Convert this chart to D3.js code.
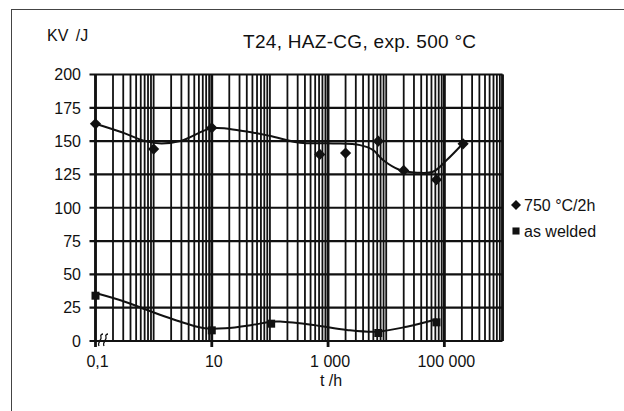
<!DOCTYPE html>
<html><head><meta charset="utf-8">
<script src="https://cdn.jsdelivr.net/npm/d3@7"></script>
<style>body{margin:0;background:#fff}svg{display:block}text{font-family:"Liberation Sans",Arial,sans-serif;fill:#111}</style>
</head><body><svg id="c" width="624" height="411"></svg>
<script>
// ---- data ----
const titleText = "T24, HAZ-CG, exp. 500 °C";
const yAxisTitle = "KV /J";
const xAxisTitle = "t /h";
const yTicks = [0, 25, 50, 75, 100, 125, 150, 175, 200];
const xTickValues = [0.1, 10, 1000, 100000];
const xTickLabels = ["0,1", "10", "1 000", "100 000"];
const seriesNames = ["750 °C/2h", "as welded"];
// 750 °C/2h measured points
const t750 = [0.1, 1, 10, 720, 2000, 7300, 20000, 73000, 210000];
const kv750 = [163, 144, 160, 140, 141, 150, 128, 121, 148];
// as welded measured points
const tWeld = [0.1, 10, 105, 7300, 73000];
const kvWeld = [34, 8, 13, 6, 14];
// trend curves
const trend750T = [0.1, 0.32, 0.71, 1.37, 3.0, 10, 30, 98, 330, 1210, 3540, 5900, 8800, 17200, 33800, 63700, 110000, 211000];
const trend750V = [163, 155.8, 150, 148.3, 150.3, 159.6, 158, 154, 148.8, 148.3, 147, 143.4, 135.8, 128.3, 126.3, 127, 135.8, 148.4];
const trendWeldT = [0.1, 0.32, 0.92, 3.5, 7.6, 17, 49, 107, 150, 560, 2100, 6900, 22500, 74000];
const trendWeldV = [36, 29.5, 22, 13.3, 9.5, 9.5, 12, 14.5, 14.6, 12, 8.3, 7, 10.7, 16.3];

// ---- drawing ----
const svg = d3.select("#c");
const L = 95.5, R = 502.5, T = 74.5, B = 341;
const x = d3.scaleLog().domain([0.1, 1e6]).range([L, R]);
const y = d3.scaleLinear().domain([0, 200]).range([B, T]);

svg.append("rect").attr("x", 11.5).attr("y", 9.5).attr("width", 700).attr("height", 500)
  .attr("fill", "none").attr("stroke", "#444").attr("stroke-width", 1);

// vertical log gridlines
const g = svg.append("g");
g.selectAll("line.v").data(x.ticks()).join("line")
  .attr("x1", d => x(d)).attr("x2", d => x(d)).attr("y1", T).attr("y2", B)
  .attr("stroke", "#111").attr("stroke-width", 1.8);
// horizontal gridlines
g.selectAll("line.h").data(yTicks).join("line")
  .attr("x1", L - 6).attr("x2", R).attr("y1", d => y(d)).attr("y2", d => y(d))
  .attr("stroke", "#111").attr("stroke-width", 2.2);
// major x lines + ticks
g.selectAll("line.m").data(xTickValues.concat([1e6])).join("line")
  .attr("x1", d => x(d)).attr("x2", d => x(d)).attr("y1", T)
  .attr("y2", (d, i) => i < xTickValues.length ? B + 6 : B)
  .attr("stroke", "#111").attr("stroke-width", 2.8);

// y labels
svg.selectAll("text.yl").data(yTicks).join("text")
  .attr("x", 81).attr("y", d => y(d) + 5.8).attr("text-anchor", "end")
  .attr("font-size", 16).text(d => d);
// x labels
svg.selectAll("text.xl").data(xTickValues).join("text")
  .attr("x", d => x(d) + 2).attr("y", 366.5).attr("text-anchor", "middle")
  .attr("font-size", 16).text((d, i) => xTickLabels[i]);
svg.append("text").attr("x", 331).attr("y", 386).attr("text-anchor", "middle").attr("font-size", 16).text(xAxisTitle);
svg.append("text").attr("x", 47).attr("y", 41).attr("font-size", 16).attr("word-spacing", 3).text(yAxisTitle);
svg.append("text").attr("x", 243).attr("y", 48).attr("font-size", 19).attr("letter-spacing", 0.3).text(titleText);

// axis break symbol
const brk = svg.append("g").attr("fill", "none").attr("stroke", "#111").attr("stroke-width", 1.3);
[101, 106].forEach(bx => {
  brk.append("path").attr("d", `M${bx - 2},${B + 5} C${bx - 4},${B + 1} ${bx + 1},${B - 1} ${bx},${B - 4} C${bx - 1},${B - 6} ${bx + 1},${B - 7} ${bx + 2},${B - 7}`);
});

// trend curves
const line = d3.line().x(d => x(d[0])).y(d => y(d[1])).curve(d3.curveCatmullRom.alpha(0.5));
svg.append("path").datum(d3.zip(trend750T, trend750V)).attr("d", line)
  .attr("fill", "none").attr("stroke", "#111").attr("stroke-width", 2);
svg.append("path").datum(d3.zip(trendWeldT, trendWeldV)).attr("d", line)
  .attr("fill", "none").attr("stroke", "#111").attr("stroke-width", 2);

// markers
const diamond = d3.symbol().type(d3.symbolDiamond2).size(80);
const square = d3.symbol().type(d3.symbolSquare).size(64);
svg.selectAll("path.d").data(d3.zip(t750, kv750)).join("path")
  .attr("d", diamond).attr("transform", d => `translate(${x(d[0])},${y(d[1])})`).attr("fill", "#111");
svg.selectAll("path.s").data(d3.zip(tWeld, kvWeld)).join("path")
  .attr("d", square).attr("transform", d => `translate(${x(d[0])},${y(d[1])})`).attr("fill", "#111");

// legend
svg.append("path").attr("d", d3.symbol().type(d3.symbolDiamond2).size(64)).attr("transform", "translate(516,205)").attr("fill", "#111");
svg.append("path").attr("d", d3.symbol().type(d3.symbolSquare).size(50)).attr("transform", "translate(516,231)").attr("fill", "#111");
svg.append("text").attr("x", 524).attr("y", 210.8).attr("font-size", 16).text(seriesNames[0]);
svg.append("text").attr("x", 524).attr("y", 236.8).attr("font-size", 16).text(seriesNames[1]);
</script></body></html>
